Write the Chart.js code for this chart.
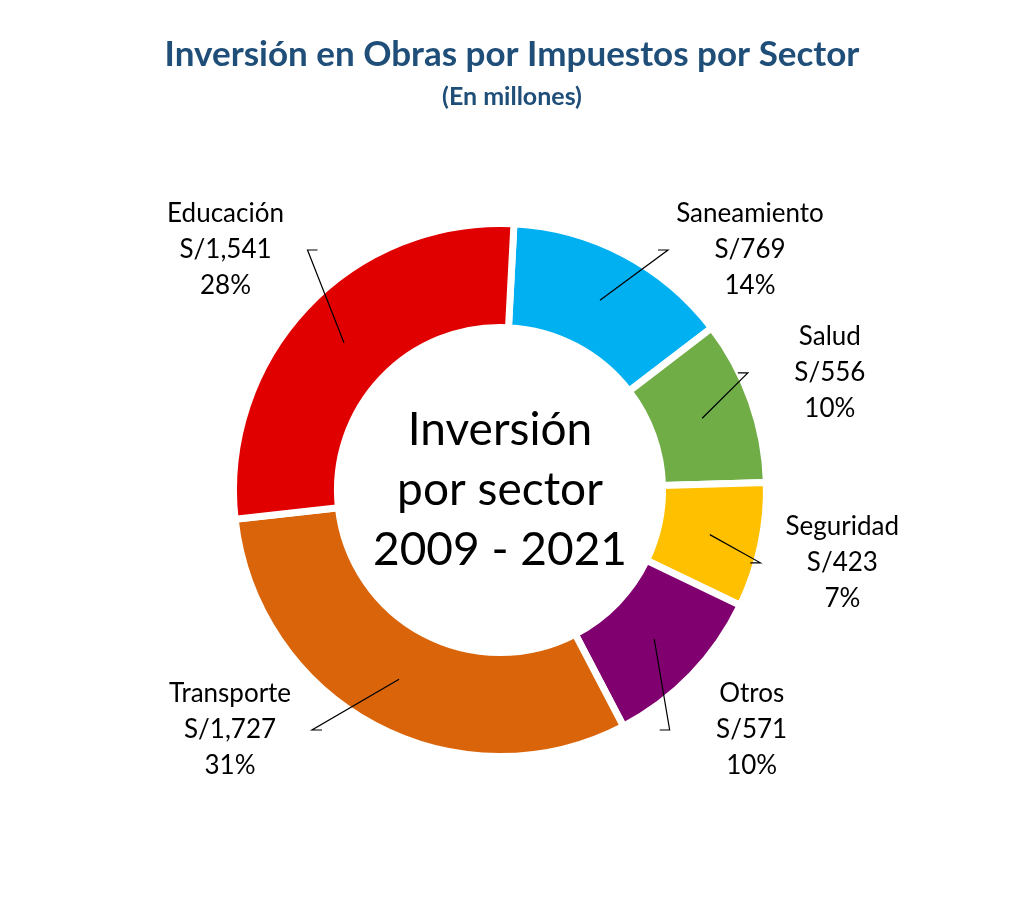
<!DOCTYPE html>
<html><head><meta charset="utf-8">
<script src="https://cdn.jsdelivr.net/npm/chart.js@4/dist/chart.umd.min.js"></script>
<style>html,body{margin:0;background:#fff}#w{width:1024px;height:921px}</style>
</head><body><div id="w"><canvas id="c"></canvas></div>
<script>
const categories = ["Saneamiento","Salud","Seguridad","Otros","Transporte","Educación"];
const values = [769,556,423,571,1727,1541];
const valueLabels = ["S/769","S/556","S/423","S/571","S/1,727","S/1,541"];
const pctLabels = ["14%","10%","7%","10%","31%","28%"];
const colors = ["#00B0F0","#70AD47","#FFC000","#800070","#D9640A","#E00000"];
const centerText = ["Inversión","por sector","2009 - 2021"];
const FONT = "Lato, 'Open Sans', sans-serif";

const labelPlugin = {
  id:'lbl',
  afterDraw(chart){
    const ctx = chart.ctx;
    const meta = chart.getDatasetMeta(0);
    const a0 = meta.data[0];
    const cx = a0.x, cy = a0.y;
    ctx.save();
    ctx.fillStyle = "#1F4E79";
    ctx.textAlign = "center"; ctx.textBaseline = "middle";
    ctx.font = "bold 35px " + FONT;
    ctx.fillText("Inversión en Obras por Impuestos por Sector", 512, 55);
    ctx.font = "bold 25px " + FONT;
    ctx.fillText("(En millones)", 512, 97);
    ctx.fillStyle = "#000";
    ctx.font = "46px " + FONT;
    centerText.forEach((t,i)=>ctx.fillText(t, cx, cy - 60 + i*60));
    ctx.font = "26px " + FONT;
    meta.data.forEach((arc,i)=>{
      const mid = (arc.startAngle + arc.endAngle)/2;
      const rm = (arc.innerRadius + arc.outerRadius)/2;
      const sx = cx + Math.cos(mid)*rm, sy = cy + Math.sin(mid)*rm;
      let dx = Math.cos(mid)*350, dy = Math.sin(mid)*350;
      const sg = dx >= 0 ? 1 : -1;
      dx = sg*Math.max(Math.abs(dx), 250);
      dy = Math.max(-240, Math.min(240, dy));
      const lx = cx + dx + (dx < 0 ? -20 : 0), ly = cy + dy;
      ctx.strokeStyle = "#000"; ctx.lineWidth = 1.2;
      const ex = lx - sg*82;
      ctx.beginPath(); ctx.moveTo(sx, sy); ctx.lineTo(ex, ly); ctx.lineTo(ex - sg*10, ly); ctx.stroke();
      ctx.fillStyle = "#000";
      [categories[i], valueLabels[i], pctLabels[i]].forEach((t,k)=>ctx.fillText(t, lx, ly - 36 + k*36));
    });
    ctx.restore();
  }
};

new Chart(document.getElementById('c'), {
  type:'doughnut',
  data:{labels:categories, datasets:[{data:values, backgroundColor:colors, borderColor:"#fff", borderWidth:7, hoverOffset:0}]},
  options:{
    responsive:true, maintainAspectRatio:false, animation:false,
    rotation:3, cutout:'61%',
    layout:{padding:{left:230,right:254,top:220,bottom:161}},
    plugins:{legend:{display:false}, tooltip:{enabled:false}}
  },
  plugins:[labelPlugin]
});
</script></body></html>
